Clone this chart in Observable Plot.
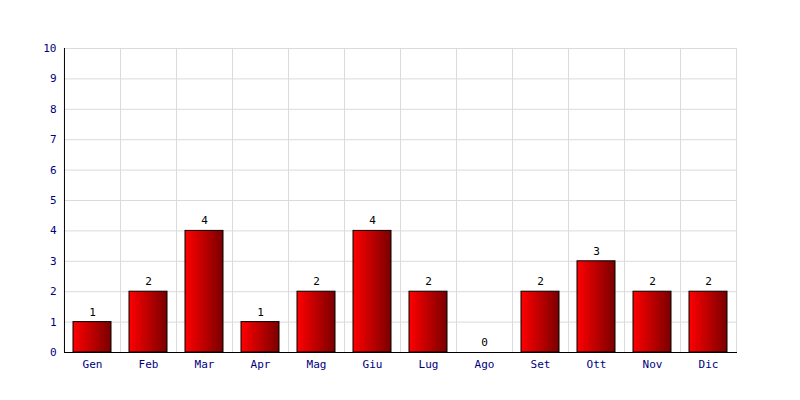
<!DOCTYPE html>
<html>
<head>
<meta charset="utf-8">
<script src="https://cdn.jsdelivr.net/npm/d3@7"></script>
<script src="https://cdn.jsdelivr.net/npm/@observablehq/plot@0.6"></script>
<style>
  html, body { margin: 0; padding: 0; background: #fff; }
  #chart { width: 800px; height: 400px; }
</style>
</head>
<body>
<div id="chart"></div>
<script>
const months = ["Gen","Feb","Mar","Apr","Mag","Giu","Lug","Ago","Set","Ott","Nov","Dic"];
const values = [1,2,4,1,2,4,2,0,2,3,2,2];
const yTicks = [0,1,2,3,4,5,6,7,8,9,10];

const data = months.map((m, i) => ({month: m, value: values[i]}));

const W = 800, H = 400;
const mL = 64, mR = 63, mT = 48, mB = 48;
const step = (W - mL - mR) / months.length;

const defs = () => {
  const d = d3.create("svg:defs");
  const g = d.append("linearGradient").attr("id", "barGrad")
    .attr("x1", "0").attr("x2", "1").attr("y1", "0").attr("y2", "0");
  g.append("stop").attr("offset", "0%").attr("stop-color", "#ff0000");
  g.append("stop").attr("offset", "100%").attr("stop-color", "#7a0000");
  return d.node();
};

const chart = Plot.plot({
  width: W, height: H,
  marginLeft: mL, marginRight: mR, marginTop: mT, marginBottom: mB,
  style: {fontFamily: "'DejaVu Sans Mono', monospace", fontSize: "11px", background: "#fff"},
  x: {domain: months, paddingInner: 0.32, paddingOuter: 0.16, label: null},
  y: {domain: [0, 10], label: null},
  marks: [
    defs,
    Plot.ruleY(yTicks, {y: d => d, stroke: "#dadada", strokeOpacity: 1}),
    Plot.ruleX(months, {x: d => d, dx: step / 2, stroke: "#dadada", strokeOpacity: 1}),
    Plot.barY(data, {x: "month", y: "value", fill: "url(#barGrad)", stroke: "#000", strokeWidth: 1}),
    Plot.text(data, {x: "month", y: "value", text: d => String(d.value), dy: -10, fill: "#000"}),
    Plot.ruleX([months[0]], {x: d => d, dx: -step / 2, stroke: "#000", strokeWidth: 1}),
    Plot.ruleY([0], {stroke: "#000", strokeWidth: 1}),
    Plot.axisY({ticks: yTicks, tickSize: 0, tickPadding: 8, color: "#000080", label: null}),
    Plot.axisX({tickSize: 0, tickPadding: 8, color: "#000080", label: null})
  ]
});
document.getElementById("chart").appendChild(chart);
</script>
</body>
</html>
